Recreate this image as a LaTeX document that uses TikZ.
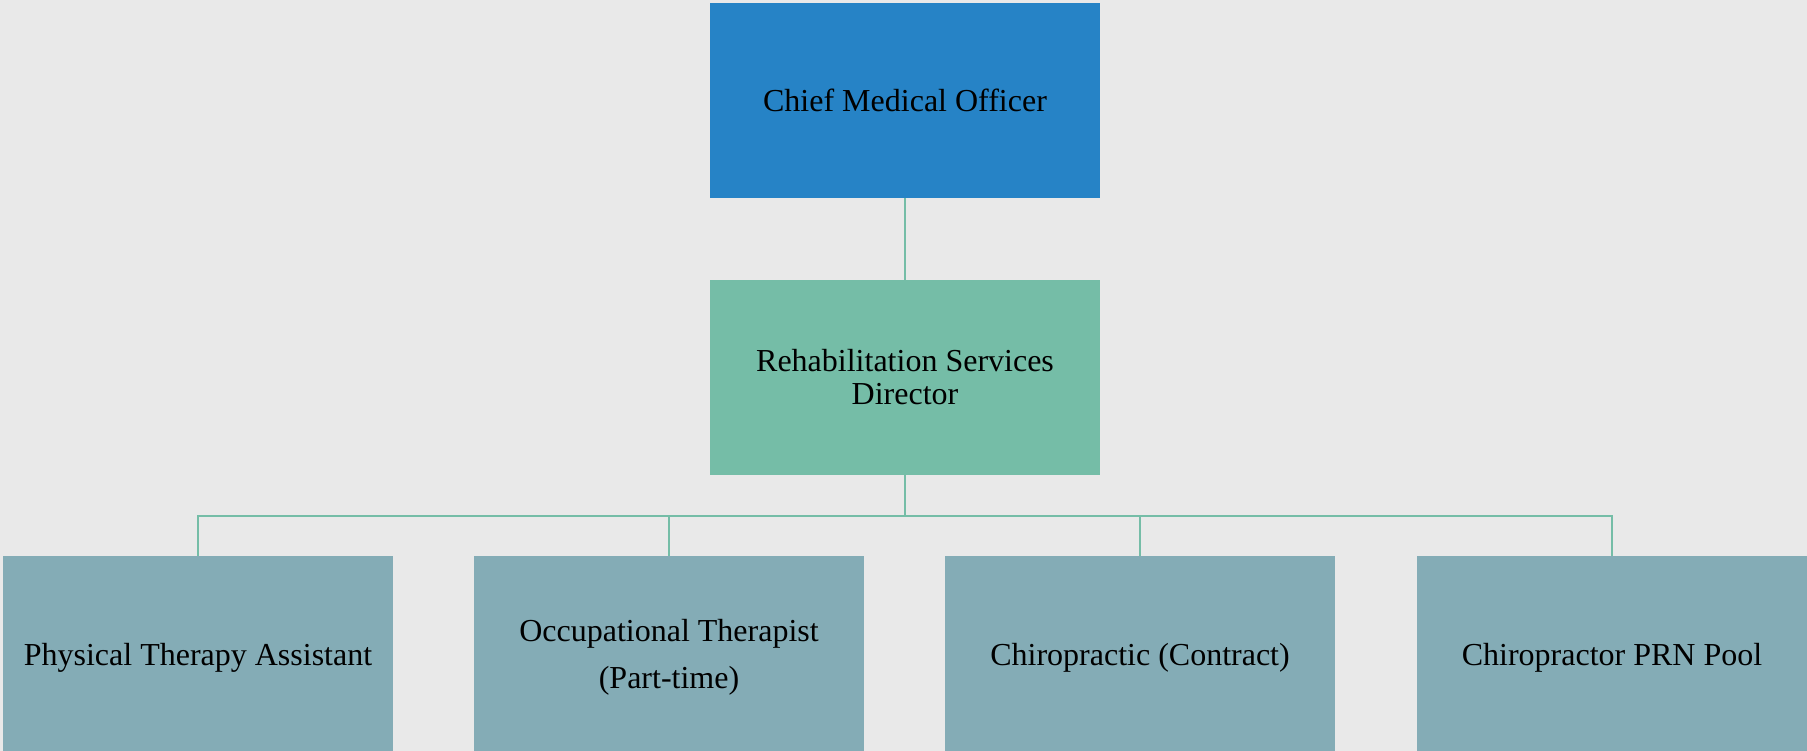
\documentclass[tikz,border=0pt]{standalone}
\usepackage{fontspec}
\setmainfont{Liberation Serif}
\definecolor{paper}{RGB}{233,233,233}
\definecolor{chiefblue}{RGB}{38,131,198}
\definecolor{directorgreen}{RGB}{117,189,167}
\definecolor{staffgrey}{RGB}{132,172,182}
\definecolor{linkgreen}{RGB}{117,189,167}
\tikzset{
  orgbox/.style={rectangle,minimum width=390pt,minimum height=195pt,
    inner sep=0pt,align=center,text=black,font=\fontsize{32}{33}\selectfont},
  link/.style={draw=linkgreen,line width=1.5pt}
}
\begin{document}
\begin{tikzpicture}[x=1pt,y=-1pt]

  % background
  \fill[paper] (0,0) rectangle (1807,751);
  \useasboundingbox (0,0) rectangle (1807,751);

  \node[orgbox,fill=chiefblue]     (cmo) at (905,100.5) {Chief Medical Officer};
  \node[orgbox,fill=directorgreen] (rsd) at (905,377.5) {Rehabilitation Services\\Director};

  % staff row runs off the bottom edge
  \begin{scope}[every node/.style={orgbox,fill=staffgrey,minimum height=203pt}]
    \node (pta)  at (198,657.5)  {Physical Therapy Assistant};
    \node[font=\fontsize{32}{47}\selectfont] (ot) at (669,657.5) {Occupational Therapist\\(Part-time)};
    \node (chc)  at (1140,657.5) {Chiropractic (Contract)};
    \node (prn)  at (1612,657.5) {Chiropractor PRN Pool};
  \end{scope}

  \coordinate (bus) at (905,516);

  \draw[link] (cmo.south) -- (rsd.north);
  \draw[link] (rsd.south) -- (bus);
  \draw[link] (bus) -| (pta.north);
  \draw[link] (bus) -| (ot.north);
  \draw[link] (bus) -| (chc.north);
  \draw[link] (bus) -| (prn.north);

\end{tikzpicture}
\end{document}
